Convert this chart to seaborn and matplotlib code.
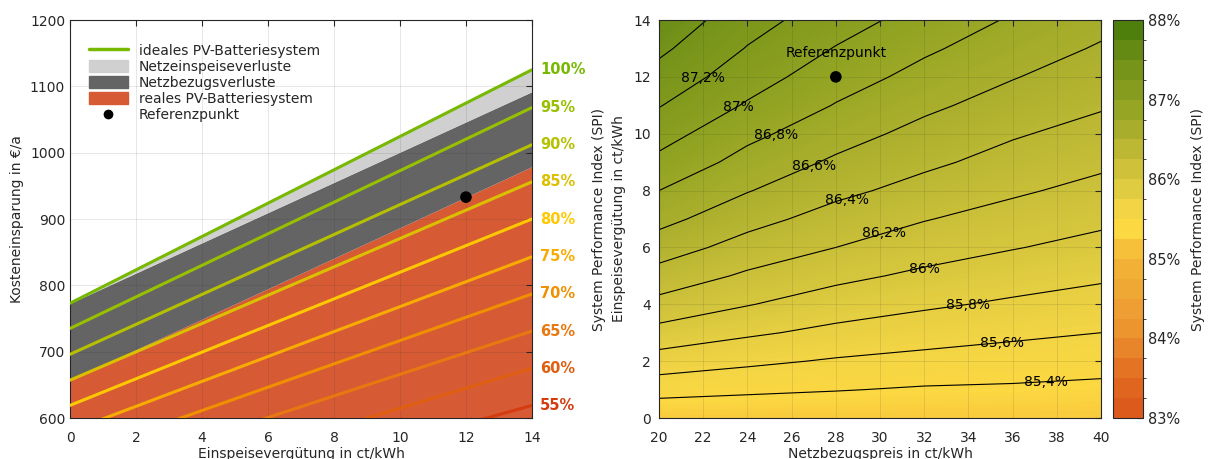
import numpy as np
import pandas as pd
import seaborn as sns
import matplotlib
matplotlib.use("Agg")
import matplotlib.pyplot as plt
from matplotlib.colors import ListedColormap, LinearSegmentedColormap, BoundaryNorm, Normalize
from matplotlib.cm import ScalarMappable
from matplotlib.lines import Line2D
from matplotlib.patches import Patch

# --- left chart: Kosteneinsparung over Einspeisevergütung ---
einspeise = [0, 14]
ideal = [773, 1125]
ohne_einspeiseverluste = [773, 1092]
real = [657, 979]
ref_left = (12, 933)

anteile = ['100%', '95%', '90%', '85%', '80%', '75%', '70%', '65%', '60%', '55%']
anteil_start = [773, 735, 696, 657, 619, 580, 541, 503, 464, 425]
anteil_ende = [1125, 1068, 1012, 956, 900, 843, 787, 731, 675, 619]
anteil_farben = ['#77b800', '#98bf00', '#b5c000', '#dcc000', '#ffc800',
                 '#f8ab00', '#f09000', '#e87810', '#e05e10', '#d43c10']

# --- right chart: SPI over Netzbezugspreis / Einspeisevergütung ---
netzbezug = [20, 24, 28, 32, 36, 40]
einspeise_grid = list(range(0, 15))
spi = [
    [85.22, 85.22, 85.22, 85.22, 85.22, 85.22],
    [85.48, 85.44, 85.41, 85.38, 85.37, 85.35],
    [85.71, 85.64, 85.58, 85.54, 85.51, 85.48],
    [85.93, 85.83, 85.75, 85.69, 85.64, 85.60],
    [86.14, 86.01, 85.90, 85.83, 85.77, 85.72],
    [86.32, 86.17, 86.05, 85.96, 85.89, 85.83],
    [86.50, 86.32, 86.20, 86.09, 86.01, 85.94],
    [86.66, 86.47, 86.32, 86.21, 86.12, 86.04],
    [86.80, 86.61, 86.45, 86.33, 86.23, 86.14],
    [86.95, 86.73, 86.57, 86.44, 86.33, 86.24],
    [87.08, 86.85, 86.68, 86.54, 86.42, 86.33],
    [87.21, 86.98, 86.79, 86.64, 86.52, 86.42],
    [87.33, 87.09, 86.89, 86.74, 86.61, 86.50],
    [87.44, 87.19, 86.99, 86.83, 86.70, 86.58],
    [87.54, 87.28, 87.09, 86.92, 86.78, 86.66],
]
spi_levels = [85.4, 85.6, 85.8, 86.0, 86.2, 86.4, 86.6, 86.8, 87.0, 87.2, 87.4]
spi_labels = ['85,4%', '85,6%', '85,8%', '86%', '86,2%', '86,4%', '86,6%', '86,8%', '87%', '87,2%']
spi_label_x = [37.5, 35.5, 34.0, 32.0, 30.2, 28.5, 27.0, 25.3, 23.6, 22.0]
spi_label_y = [1.25, 2.63, 3.98, 5.24, 6.50, 7.67, 8.88, 9.95, 10.95, 11.96]
ref_right = (28, 12)

# colorbar bands from 83% to 88% (0.25 steps)
cbar_farben = ['#dc5a1c', '#e06620', '#e47424', '#e8842a', '#ec942e', '#ee9e32',
               '#f0a834', '#f2b036', '#f6c03a', '#fcd842', '#f2d444', '#e0cc40',
               '#cfc23a', '#bcb834', '#a8ae2c', '#96a624', '#869c1e', '#76941a',
               '#648a14', '#4e7e0c']

sns.set_style("white")
plt.rcParams['font.family'] = ['DejaVu Sans']
plt.rcParams['font.size'] = 10
plt.rcParams['text.color'] = '#262626'
plt.rcParams['axes.labelcolor'] = '#262626'
plt.rcParams['xtick.color'] = '#262626'
plt.rcParams['ytick.color'] = '#262626'

fig = plt.figure(figsize=(12.09, 4.59), dpi=100)
ax1 = fig.add_axes([0.0579, 0.0893, 0.3821, 0.8671])
ax2 = fig.add_axes([0.5451, 0.0893, 0.3656, 0.8671])
cax = fig.add_axes([0.9206, 0.0893, 0.0248, 0.8671])

# ---------------- left ----------------
ax1.fill_between(einspeise, 600, real, color='#d65b35', lw=0, zorder=1)
ax1.fill_between(einspeise, real, ohne_einspeiseverluste, color='#646464', lw=0, zorder=1)
ax1.fill_between(einspeise, ohne_einspeiseverluste, ideal, color='#d0d0d0', lw=0, zorder=1)

rows = []
for name, a, b in zip(anteile, anteil_start, anteil_ende):
    rows.append({'x': einspeise[0], 'y': a, 'anteil': name})
    rows.append({'x': einspeise[1], 'y': b, 'anteil': name})
lines = pd.DataFrame(rows)
sns.lineplot(data=lines, x='x', y='y', hue='anteil', palette=anteil_farben,
             estimator=None, sort=False, linewidth=2.2, legend=False, ax=ax1, zorder=3)

for name, b, c in zip(anteile, anteil_ende, anteil_farben):
    ax1.annotate(name, xy=(14, b), xytext=(6, 0), textcoords='offset points',
                 ha='left', va='center', color=c, fontweight='bold', fontsize=10.5,
                 annotation_clip=False)

sns.scatterplot(x=[ref_left[0]], y=[ref_left[1]], color='black', s=70, ax=ax1,
                zorder=4, edgecolor='none')

ax1.set_xlim(0, 14)
ax1.set_ylim(600, 1200)
ax1.set_xticks(range(0, 15, 2))
ax1.set_yticks(range(600, 1201, 100))
ax1.grid(True, color='#262626', alpha=0.13, lw=0.6)
ax1.set_axisbelow(False)
ax1.tick_params(direction='in', top=True, right=True, length=4, width=0.8)
ax1.tick_params(axis='x', pad=9)
for s in ax1.spines.values():
    s.set_color('#262626')
    s.set_linewidth(0.8)
ax1.set_xlabel("Einspeisevergütung in ct/kWh", labelpad=2)
ax1.set_ylabel("Kosteneinsparung in €/a", labelpad=4)

handles = [
    Line2D([], [], color=anteil_farben[0], lw=2.5),
    Patch(color='#d0d0d0'),
    Patch(color='#646464'),
    Patch(color='#d65b35'),
    Line2D([], [], marker='o', color='black', ls='none', markersize=6),
]
ax1.legend(handles, ['ideales PV-Batteriesystem', 'Netzeinspeiseverluste', 'Netzbezugsverluste',
                     'reales PV-Batteriesystem', 'Referenzpunkt'],
           loc='upper left', bbox_to_anchor=(0.02, 0.965), frameon=False,
           handlelength=2.8, handleheight=1.0, labelspacing=0.15, borderaxespad=0.3)

# ---------------- right ----------------
X, Y = np.meshgrid(netzbezug, einspeise_grid)
Z = np.array(spi)
stops = [(0.0, cbar_farben[0])] + \
        [((i + 0.5) / 20, c) for i, c in enumerate(cbar_farben)] + \
        [(1.0, cbar_farben[-1])]
cmap_glatt = LinearSegmentedColormap.from_list('spi', stops)
ax2.contourf(X, Y, Z, levels=np.arange(83, 88.001, 0.02), cmap=cmap_glatt,
             norm=Normalize(83, 88))
ax2.contour(X, Y, Z, levels=spi_levels, colors='black', linewidths=0.8)
for txt, lx, ly in zip(spi_labels, spi_label_x, spi_label_y):
    ax2.text(lx, ly, txt, ha='center', va='center', fontsize=10, color='black')

sns.scatterplot(x=[ref_right[0]], y=[ref_right[1]], color='black', s=70, ax=ax2,
                zorder=4, edgecolor='none')
ax2.text(ref_right[0], ref_right[1] + 0.85, 'Referenzpunkt', ha='center', va='center',
         fontsize=10, color='black')

ax2.set_xlim(20, 40)
ax2.set_ylim(0, 14)
ax2.set_xticks(range(20, 41, 2))
ax2.set_yticks(range(0, 15, 2))
ax2.grid(True, color='#262626', alpha=0.13, lw=0.6)
ax2.set_axisbelow(False)
ax2.tick_params(direction='in', top=True, right=True, length=4, width=0.8)
ax2.tick_params(axis='x', pad=9)
ax2.tick_params(axis='y', pad=6)
for s in ax2.spines.values():
    s.set_color('#262626')
    s.set_linewidth(0.8)
ax2.set_xlabel("Netzbezugspreis in ct/kWh", labelpad=2)
ax2.set_ylabel("System Performance Index (SPI)\nEinspeisevergütung in ct/kWh",
               linespacing=1.6, labelpad=5)

bounds = np.linspace(83, 88, 21)
sm = ScalarMappable(norm=BoundaryNorm(bounds, 20), cmap=ListedColormap(cbar_farben))
cb = fig.colorbar(sm, cax=cax, ticks=[83, 84, 85, 86, 87, 88])
cb.ax.set_yticklabels(['83%', '84%', '85%', '86%', '87%', '88%'])
cb.ax.tick_params(direction='in', length=4, width=0.8, labelsize=10.5)
cb.outline.set_edgecolor('#262626')
cb.outline.set_linewidth(0.8)
cb.set_label('System Performance Index (SPI)', labelpad=8)

fig.savefig('out.png', dpi=100)
